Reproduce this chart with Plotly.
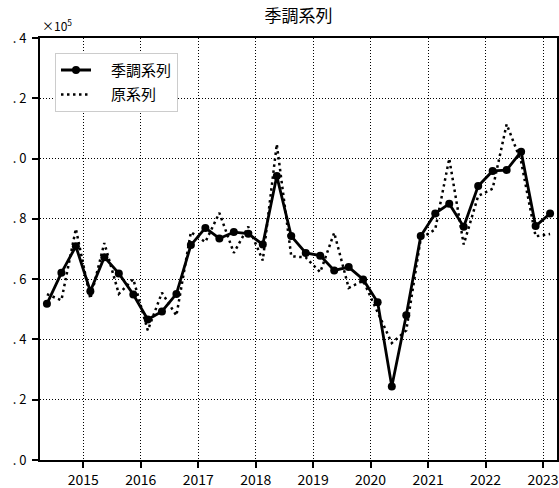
import plotly.graph_objects as go

dates = [
    "2014-05-15", "2014-08-15", "2014-11-15",
    "2015-02-15", "2015-05-15", "2015-08-15", "2015-11-15",
    "2016-02-15", "2016-05-15", "2016-08-15", "2016-11-15",
    "2017-02-15", "2017-05-15", "2017-08-15", "2017-11-15",
    "2018-02-15", "2018-05-15", "2018-08-15", "2018-11-15",
    "2019-02-15", "2019-05-15", "2019-08-15", "2019-11-15",
    "2020-02-15", "2020-05-15", "2020-08-15", "2020-11-15",
    "2021-02-15", "2021-05-15", "2021-08-15", "2021-11-15",
    "2022-02-15", "2022-05-15", "2022-08-15", "2022-11-15",
    "2023-02-15",
]

# values in units of 1e5
seasonally_adjusted = [
    0.518, 0.621, 0.709,
    0.560, 0.673, 0.619, 0.549,
    0.466, 0.493, 0.551, 0.713,
    0.770, 0.735, 0.756, 0.751,
    0.715, 0.942, 0.743, 0.687,
    0.678, 0.629, 0.640, 0.599,
    0.523, 0.244, 0.480, 0.743,
    0.818, 0.850, 0.774, 0.909,
    0.959, 0.962, 1.023, 0.776,
    0.818,
]

original = [
    0.550, 0.530, 0.767,
    0.535, 0.720, 0.551, 0.600,
    0.430, 0.555, 0.479, 0.756,
    0.723, 0.820, 0.687, 0.774,
    0.662, 1.048, 0.676, 0.672,
    0.623, 0.754, 0.571, 0.595,
    0.488, 0.388, 0.430, 0.735,
    0.765, 1.000, 0.715, 0.876,
    0.900, 1.114, 0.990, 0.742,
    0.750,
]

series_names = ["季調系列", "原系列"]

y_tick_vals = [0.0, 0.2, 0.4, 0.6, 0.8, 1.0, 1.2, 1.4]
y_tick_text = [". 0", ". 2", ". 4", ". 6", ". 8", ". 0", ". 2", ". 4"]
x_tick_vals = ["2015-01-01", "2016-01-01", "2017-01-01", "2018-01-01",
               "2019-01-01", "2020-01-01", "2021-01-01", "2022-01-01",
               "2023-01-01"]
x_tick_text = ["2015", "2016", "2017", "2018", "2019", "2020", "2021",
               "2022", "2023"]

FONT = "Noto Sans CJK JP"
PAD = "\u2003"

fig = go.Figure()
fig.add_trace(go.Scatter(
    x=dates, y=seasonally_adjusted, name=PAD + series_names[0],
    legendgroup="a",
    mode="lines+markers",
    line=dict(color="black", width=2.8),
    marker=dict(color="black", size=8),
))
fig.add_trace(go.Scatter(
    x=dates, y=original, name=PAD + series_names[1],
    legendgroup="b",
    mode="lines",
    line=dict(color="black", width=2.5, dash="2.5px,3.5px"),
))

fig.update_layout(
    width=559, height=488,
    margin=dict(l=40, r=2, t=38, b=28),
    paper_bgcolor="white", plot_bgcolor="white",
    font=dict(family=FONT, color="black", size=13),
    title=dict(text="季調系列", x=0.5, xref="paper", xanchor="center",
               y=1 - 16 / 488, yanchor="middle",
               font=dict(size=17, family=FONT, color="black")),
    legend=dict(x=0.029, y=0.965, xanchor="left", yanchor="top",
                bgcolor="white", bordercolor="#cccccc", borderwidth=1,
                font=dict(size=15, family=FONT), tracegroupgap=2),
    showlegend=True,
)

fig.update_xaxes(
    type="date", range=["2014-04-01", "2023-03-31"],
    tickvals=x_tick_vals, ticktext=x_tick_text,
    ticks="outside", ticklen=6, tickcolor="black", tickwidth=1.5,
    showline=True, linecolor="black", linewidth=1.5, mirror=True,
    showgrid=True, gridcolor="black", gridwidth=1, griddash="1px,2px",
    zeroline=False, automargin=False,
    tickfont=dict(size=14, family=FONT),
)
fig.update_yaxes(
    range=[0, 1.4],
    tickvals=y_tick_vals, ticktext=y_tick_text,
    ticks="outside", ticklen=6, tickcolor="black", tickwidth=1.5,
    showline=True, linecolor="black", linewidth=1.8, mirror=True,
    showgrid=True, gridcolor="black", gridwidth=1, griddash="1px,2px",
    zeroline=False, automargin=False,
    tickfont=dict(size=13, family=FONT),
    ticklabelstandoff=3,
)

fig.add_annotation(
    text="×10<sup>5</sup>", xref="paper", yref="paper",
    x=0, y=1, xanchor="left", yanchor="bottom", yshift=2,
    showarrow=False, font=dict(size=12, family=FONT, color="black"),
)

fig.write_html(
    "out.html",
    config={"displayModeBar": False},
    post_script="document.body.style.margin='0';"
                "document.body.style.overflow='hidden';",
)
